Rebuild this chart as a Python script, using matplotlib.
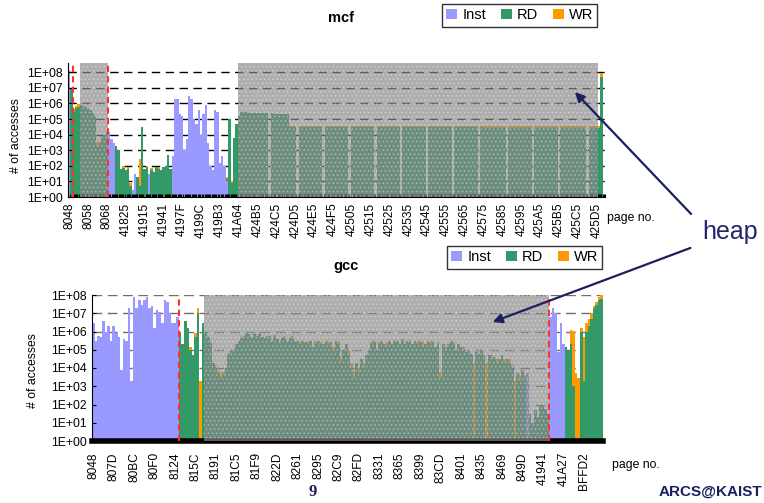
import matplotlib
matplotlib.use("Agg")
import matplotlib.pyplot as plt
from matplotlib.patches import Patch, FancyArrowPatch
from matplotlib.ticker import NullLocator
import numpy as np

plt.rcParams["font.family"] = ["Liberation Sans", "DejaVu Sans"]
plt.rcParams["hatch.linewidth"] = 0.6

INST_COLOR = "#9999ff"
RD_COLOR = "#339966"
WR_COLOR = "#ff9900"
NAVY = "#1c1f5e"

# 8 bars between two labelled pages
PER_LABEL = 8

# ---------------- mcf ----------------
mcf_labels = ["8048", "8058", "8068", "41825", "41915", "41941", "4197F", "4199C", "419B3", "41A64",
              "424B5", "424C5", "424D5", "424E5", "424F5", "42505", "42515", "42525", "42535", "42545",
              "42555", "42565", "42575", "42585", "42595", "425A5", "425B5", "425C5", "425D5"]

mcf_inst = [
    1.3e8, 0, 0, 0, 0, 0, 0, 0,
    0, 0, 0, 0, 0, 0, 0, 0,
    0, 1.5e4, 5e3, 3e3, 0, 0, 0, 0,
    0, 0, 0, 3, 30, 0, 0, 0,
    0, 0, 30, 0, 0, 0, 0, 0,
    0, 0, 0, 0, 400, 2e6, 2e6, 2e5,
    1.5e5, 1e3, 5e3, 3e6, 2e6, 1e5, 5e4, 4e5,
    1e4, 2e5, 8e5, 3e3, 100, 50, 4e5, 3e5,
    150, 400, 100, 10, 0, 0, 0, 0,
    0, 0, 0, 0, 0, 0, 0, 0,
    0, 0, 0, 0, 0, 0, 0, 0,
    0, 0, 0, 0, 0, 0, 0, 0,
    0, 0, 0, 0, 0, 0, 0, 0,
    0, 0, 0, 0, 0, 0, 0, 0,
    0, 0, 0, 0, 0, 0, 0, 0,
    0, 0, 0, 0, 0, 0, 0, 0,
    0, 0, 0, 0, 0, 0, 0, 0,
    0, 0, 0, 0, 0, 0, 0, 0,
    0, 0, 0, 0, 0, 0, 0, 0,
    0, 0, 0, 0, 0, 0, 0, 0,
    0, 0, 0, 0, 0, 0, 0, 0,
    0, 0, 0, 0, 0, 0, 0, 0,
    0, 0, 0, 0, 0, 0, 0, 0,
    0, 0, 0, 0, 0, 0, 0, 0,
    0, 0, 0, 0, 0, 0, 0, 0,
    0, 0, 0, 0, 0, 0, 0, 0,
    0, 0, 0, 0, 0, 0, 0, 0,
    0, 0, 0, 0, 0, 0, 0, 0,
    0, 0, 0, 0,
]

mcf_rd = [
    0, 1e7, 3e5, 5e5, 6e5, 8e5, 7e5, 6e5,
    5e5, 4e5, 2.5e5, 1.5e5, 2e3, 3e3, 8e3, 1e4,
    1.2e4, 0, 0, 0, 2e3, 1e3, 60, 70,
    50, 60, 5, 0, 0, 20, 5, 3e4,
    60, 80, 0, 50, 40, 80, 60, 50,
    80, 100, 500, 60, 0, 0, 0, 0,
    0, 0, 0, 0, 0, 0, 0, 0,
    0, 0, 0, 0, 0, 0, 0, 0,
    0, 0, 0, 5, 1e5, 8, 6e3, 5e4,
    1.5e5, 2.8e5, 2.8e5, 2.7e5, 2.7e5, 2.6e5, 2.6e5, 2.5e5,
    2.5e5, 2.5e5, 2.4e5, 2.4e5, 2.3e5, 0, 2.3e5, 2.2e5,
    2.2e5, 2.2e5, 2.1e5, 2.1e5, 2e5, 2e5, 3e4, 3e4,
    3e4, 0, 3e4, 3e4, 3e4, 3e4, 3e4, 3e4,
    3e4, 3e4, 3e4, 3e4, 0, 3e4, 3e4, 3e4,
    3e4, 3e4, 3e4, 3e4, 3e4, 3e4, 3e4, 0,
    3e4, 3e4, 3e4, 3e4, 3e4, 3e4, 3e4, 3e4,
    3e4, 3e4, 0, 3e4, 3e4, 3e4, 3e4, 3e4,
    3e4, 3e4, 3e4, 3e4, 3e4, 0, 3e4, 3e4,
    3e4, 3e4, 3e4, 3e4, 3e4, 3e4, 3e4, 3e4,
    0, 3e4, 3e4, 3e4, 3e4, 3e4, 3e4, 3e4,
    3e4, 3e4, 3e4, 0, 3e4, 3e4, 3e4, 3e4,
    3e4, 3e4, 3e4, 3e4, 3e4, 3e4, 0, 3e4,
    2.8e4, 2.8e4, 2.8e4, 2.8e4, 2.8e4, 2.8e4, 2.8e4, 2.8e4,
    2.8e4, 2.8e4, 0, 2.8e4, 2.8e4, 2.8e4, 2.8e4, 2.8e4,
    2.8e4, 2.8e4, 2.8e4, 2.8e4, 2.8e4, 0, 2.8e4, 2.8e4,
    2.7e4, 2.7e4, 2.7e4, 2.7e4, 2.7e4, 2.7e4, 2.7e4, 2.7e4,
    0, 2.7e4, 2.7e4, 2.7e4, 2.7e4, 2.7e4, 2.7e4, 2.7e4,
    2.7e4, 2.7e4, 2.7e4, 2.7e4, 0, 2.7e4, 2.7e4, 2.7e4,
    2.7e4, 2.7e4, 5e7, 0,
]

mcf_wr = [
    0, 0, 1.5e5, 2e5, 3e5, 3e5, 0, 0,
    0, 0, 0, 0, 1.5e3, 1e3, 0, 0,
    4e3, 0, 0, 0, 0, 0, 0, 30,
    0, 20, 3, 0, 0, 0, 250, 0,
    0, 20, 0, 20, 0, 0, 25, 0,
    0, 0, 0, 0, 0, 0, 0, 0,
    0, 0, 0, 0, 0, 0, 0, 0,
    0, 0, 0, 0, 0, 0, 0, 0,
    0, 0, 0, 3, 0, 3, 0, 0,
    0, 0, 0, 0, 0, 0, 0, 0,
    0, 0, 0, 0, 0, 0, 0, 0,
    0, 0, 0, 0, 0, 0, 8e3, 8e3,
    8e3, 0, 8e3, 8e3, 8e3, 8e3, 8e3, 8e3,
    8e3, 8e3, 8e3, 8e3, 0, 8e3, 8e3, 8e3,
    8e3, 8e3, 8e3, 8e3, 8e3, 8e3, 8e3, 0,
    8e3, 8e3, 8e3, 8e3, 8e3, 8e3, 8e3, 8e3,
    8e3, 8e3, 0, 8e3, 8e3, 8e3, 8e3, 8e3,
    8e3, 8e3, 8e3, 8e3, 8e3, 0, 8e3, 8e3,
    8e3, 8e3, 8e3, 8e3, 8e3, 8e3, 8e3, 8e3,
    0, 8e3, 8e3, 8e3, 8e3, 8e3, 8e3, 8e3,
    8e3, 8e3, 8e3, 0, 8e3, 8e3, 8e3, 8e3,
    8e3, 8e3, 8e3, 8e3, 8e3, 8e3, 0, 8e3,
    8e3, 8e3, 8e3, 8e3, 8e3, 8e3, 8e3, 8e3,
    8e3, 8e3, 0, 8e3, 8e3, 8e3, 8e3, 8e3,
    8e3, 8e3, 8e3, 8e3, 8e3, 0, 8e3, 8e3,
    8e3, 8e3, 8e3, 8e3, 8e3, 8e3, 8e3, 8e3,
    0, 8e3, 8e3, 8e3, 8e3, 8e3, 8e3, 8e3,
    8e3, 8e3, 8e3, 8e3, 0, 8e3, 8e3, 8e3,
    8e3, 8e3, 4e7, 0,
]

# heap regions (bar index ranges) and region boundaries
mcf_heap = [(4.5, 16.5), (71.5, 224.5)]
mcf_marks = [1.5, 16.5]

# ---------------- gcc ----------------
gcc_labels = ["8048", "807D", "80BC", "80F0", "8124", "815C", "8191", "81C5", "81F9", "822D",
              "8261", "8295", "82C9", "82FD", "8331", "8365", "8399", "83CD", "8401", "8435",
              "8469", "849D", "41941", "41A27", "BFFD2"]

gcc_inst = [
    3e6, 3e5, 6e5, 5e5, 4e6, 1e6, 2e6, 3e5,
    2e6, 8e5, 5e5, 8e3, 4e5, 3e5, 2e7, 2e3,
    8e7, 2e7, 5e7, 3e7, 5e7, 8e7, 2e7, 2.5e7,
    1.5e6, 1.5e7, 1.2e7, 3e6, 5e7, 4e7, 1e7, 3e6,
    3e6, 6e6, 0, 0, 0, 0, 0, 0,
    0, 0, 0, 0, 0, 0, 0, 0,
    0, 0, 0, 0, 0, 0, 0, 0,
    0, 0, 0, 0, 0, 0, 0, 0,
    0, 0, 0, 0, 0, 0, 0, 0,
    0, 0, 0, 0, 0, 0, 0, 0,
    0, 0, 0, 0, 0, 0, 0, 0,
    0, 0, 0, 0, 0, 0, 0, 0,
    0, 0, 0, 0, 0, 0, 0, 0,
    0, 0, 0, 0, 0, 0, 0, 0,
    0, 0, 0, 0, 0, 0, 0, 0,
    0, 0, 0, 0, 0, 0, 0, 0,
    0, 0, 0, 0, 0, 0, 0, 0,
    0, 0, 0, 0, 0, 0, 0, 0,
    0, 0, 0, 0, 0, 0, 0, 0,
    0, 0, 0, 0, 0, 0, 0, 0,
    0, 0, 0, 0, 0, 0, 0, 0,
    0, 0, 5e3, 0, 0, 0, 0, 0,
    0, 0, 0, 6e6, 2e7, 1e7, 8e4, 3e6,
    2e5, 0, 0, 0, 0, 0, 0, 0,
    0, 0, 0, 0, 0, 0, 0, 0,
]

gcc_rd = [
    0, 0, 0, 0, 0, 0, 0, 0,
    0, 0, 0, 0, 0, 0, 0, 0,
    0, 0, 0, 0, 0, 0, 0, 0,
    0, 0, 0, 0, 0, 0, 0, 0,
    0, 0, 1e6, 2e5, 4e6, 1.5e6, 1e5, 5e4,
    5e5, 1e7, 0, 3e6, 1e6, 5e5, 2e5, 2e4,
    1e4, 5e3, 3e3, 4e3, 1e4, 5e4, 1e5, 8e4,
    2e5, 3e5, 4e5, 6e5, 8e5, 7e5, 5e5, 8e5,
    6e5, 7e5, 5e5, 5e5, 4e5, 6e5, 3e5, 5e5,
    4e5, 2e5, 5e5, 4e5, 3e5, 5e5, 4e5, 3e5,
    3e5, 2e5, 3e5, 2.5e5, 2e5, 3e5, 1.5e5, 2e5,
    3e5, 2e5, 2e5, 3e5, 2e5, 2.5e5, 1e5, 3e5,
    2e5, 2e4, 1e5, 2e5, 5e4, 1e4, 3e3, 2e4,
    5e3, 3e4, 1e4, 5e4, 1e5, 2e5, 3e5, 1e5,
    2e5, 3e5, 2e5, 1.5e5, 3e5, 2e5, 2.5e5, 3e5,
    2e5, 3e5, 2e5, 3e5, 2.5e5, 2e5, 3e5, 2e5,
    3e5, 1.5e5, 2e5, 3e5, 2e5, 3e5, 1.5e5, 2e5,
    3e3, 2e5, 1e5, 2e5, 3e5, 2e5, 1e5, 2e5,
    1.5e5, 1e5, 8e4, 1e5, 6e4, 0, 8e4, 6e4,
    1e5, 5e4, 0, 5e4, 3e4, 4e4, 2e4, 3e4,
    5e4, 2e4, 3e4, 2e4, 1e4, 0, 5e3, 2e3,
    8e3, 3e3, 0, 30, 10, 50, 20, 80,
    100, 60, 30, 0, 0, 0, 0, 0,
    0, 1.5e5, 1e5, 2e5, 1e3, 0, 0, 1e6,
    2e3, 1e6, 2e6, 5e6, 2e7, 3e7, 5e7, 6e7,
]

gcc_wr = [
    0, 0, 0, 0, 0, 0, 0, 0,
    0, 0, 0, 0, 0, 0, 0, 0,
    0, 0, 0, 0, 0, 0, 0, 0,
    0, 0, 0, 0, 0, 0, 0, 0,
    0, 0, 0, 0, 0, 0, 5e4, 0,
    3e5, 1e7, 2e3, 0, 0, 0, 5e4, 0,
    5e3, 3e3, 2e3, 2e3, 0, 2e4, 0, 3e4,
    0, 0, 1e5, 0, 0, 0, 0, 0,
    0, 2e5, 0, 0, 2e5, 0, 0, 1.5e5,
    0, 1e5, 0, 2e5, 0, 0, 1.5e5, 0,
    0, 1e5, 0, 0, 1e5, 0, 0, 1e5,
    0, 1e5, 0, 0, 1e5, 0, 5e4, 0,
    1e5, 2e4, 0, 0, 5e4, 1e4, 3e3, 0,
    5e3, 0, 1e4, 0, 0, 1e5, 0, 0,
    1e5, 0, 0, 1e5, 0, 0, 1e5, 0,
    0, 1e5, 0, 0, 1e5, 0, 0, 1e5,
    0, 1e5, 0, 0, 1e5, 0, 0, 1e5,
    3e3, 0, 5e4, 0, 0, 1e5, 0, 0,
    0, 5e4, 0, 0, 0, 2e4, 0, 0,
    0, 0, 2e4, 0, 2e4, 0, 1e4, 0,
    0, 1e4, 0, 1e4, 5e3, 2e3, 0, 2e3,
    0, 1e3, 0, 0, 0, 0, 0, 0,
    0, 0, 0, 0, 0, 0, 0, 0,
    0, 0, 0, 1e6, 1e6, 5e3, 3e3, 5e5,
    5e5, 2e6, 3e6, 5e6, 5e6, 1e7, 3e7, 5e7,
]

gcc_heap = [(43.5, 178.5)]
gcc_marks = [33.5, 178.5]


def draw_accesses(ax, inst, rd, wr, labels, heap, marks, ytop, grid_color, grid_dash):
    inst = np.asarray(inst, float)
    rd = np.asarray(rd, float)
    wr = np.asarray(wr, float)
    n = len(rd)
    x = np.arange(n)

    # stacked columns, baseline at 1
    t1 = np.maximum(inst, 1)
    t2 = np.maximum(inst + rd, 1)
    t3 = np.maximum(inst + rd + wr, 1)
    for val, lo, hi, color in [(inst, np.ones(n), t1, INST_COLOR),
                               (rd, t1, t2, RD_COLOR),
                               (wr, t2, t3, WR_COLOR)]:
        m = val > 0
        ax.bar(x[m], hi[m] - lo[m], bottom=lo[m], width=1.0, color=color,
               linewidth=0, zorder=1)

    ax.set_yscale("log")
    ax.set_ylim(1, ytop)
    ax.set_xlim(-0.5, n - 0.5)

    for k in range(1, 9):
        ax.axhline(10 ** k, color=grid_color, lw=1.0, linestyle=(0, grid_dash), zorder=0.6)

    # grey "heap" shading
    for a, b in heap:
        ax.axvspan(a, b, facecolor="#888888", alpha=0.68, lw=0, zorder=3)
        ax.axvspan(a, b, fill=False, hatch="....", edgecolor="white", lw=0, alpha=0.35, zorder=3.1)
    for m in marks:
        ax.axvline(m, color="#ff3030", lw=1.5, linestyle=(0, (3, 2)), zorder=4)

    ax.set_yticks([10 ** k for k in range(9)], [f"1E+{k:02d}" for k in range(9)])
    ax.yaxis.set_minor_locator(NullLocator())
    ax.tick_params(axis="y", direction="in", length=3, width=0.8, labelsize=8.8, pad=4)

    ax.set_xticks(np.arange(len(labels)) * PER_LABEL, labels, rotation=90)
    ax.tick_params(axis="x", which="major", length=0, labelsize=8.6)

    for s in ["top", "right"]:
        ax.spines[s].set_visible(False)
    ax.spines["left"].set_linewidth(0.8)


fig = plt.figure(figsize=(7.64, 5.03), dpi=100)
W, H = 764.0, 503.0

ax1 = fig.add_axes([68 / W, 1 - 197 / H, (605 - 68) / W, (197 - 63) / H])
draw_accesses(ax1, mcf_inst, mcf_rd, mcf_wr, mcf_labels, mcf_heap, mcf_marks,
              10 ** 8.59, "black", (6, 4))
# dense page ticks along the bottom
ax1.set_xticks(np.arange(-0.5, len(mcf_rd), 0.5), minor=True)
ax1.tick_params(axis="x", which="minor", direction="in", length=2.5, width=0.8, color="black")
ax1.tick_params(axis="x", which="major", pad=4)

ax2 = fig.add_axes([92 / W, 1 - 441 / H, (603 - 92) / W, (441 - 295) / H])
draw_accesses(ax2, gcc_inst, gcc_rd, gcc_wr, gcc_labels, gcc_heap, gcc_marks,
              1e8, "#6e6e6e", (7, 4))
ax2.spines["bottom"].set_linewidth(4)
ax2.tick_params(axis="x", which="major", pad=8)

# titles, axis captions
fig.text(341 / W, 1 - 18 / H, "mcf", ha="center", va="center", fontsize=10.5, fontweight="bold")
fig.text(346 / W, 1 - 266 / H, "gcc", ha="center", va="center", fontsize=10.5, fontweight="bold")
fig.text(16 / W, 1 - 136 / H, "# of accesses", rotation=90, ha="center", va="center", fontsize=8.8)
fig.text(32.5 / W, 1 - 371 / H, "# of accesses", rotation=90, ha="center", va="center", fontsize=8.8)
fig.text(607 / W, 1 - 218 / H, "page no.", ha="left", va="center", fontsize=8.8)
fig.text(612 / W, 1 - 465 / H, "page no.", ha="left", va="center", fontsize=8.8)

handles = [Patch(facecolor=INST_COLOR, label="Inst"),
           Patch(facecolor=RD_COLOR, label="RD"),
           Patch(facecolor=WR_COLOR, label="WR")]
for top_px, left_px in [(4, 442), (246, 447)]:
    leg = fig.legend(handles=handles, loc="upper left", bbox_to_anchor=(left_px / W, 1 - top_px / H),
                     ncol=3, frameon=True, fancybox=False, edgecolor="black", fontsize=10.5,
                     handlelength=0.75, handleheight=0.7, handletextpad=0.35, columnspacing=1.0,
                     borderpad=0.3, borderaxespad=0)
    leg.get_frame().set_linewidth(1.0)

# "heap" call-out
fig.text(730 / W, 1 - 232 / H, "heap", ha="center", va="center", fontsize=18, color="#22266a")
for tail, head in [((693, 216), (573, 90)), ((693, 247), (490, 323))]:
    arr = FancyArrowPatch((tail[0] / W, 1 - tail[1] / H), (head[0] / W, 1 - head[1] / H),
                          transform=fig.transFigure, arrowstyle="-|>", mutation_scale=14,
                          color=NAVY, lw=1.6, zorder=10)
    fig.add_artist(arr)

# slide footer
fig.text(313 / W, 1 - 492 / H, "9", ha="center", va="center", fontsize=12,
         fontweight="bold", family=["Liberation Serif", "DejaVu Serif"], color=NAVY)
fig.text(762 / W, 1 - 492 / H, "ARCS@KAIST", ha="right", va="center", fontsize=11,
         fontweight="bold", color=NAVY)

fig.savefig("out.png", dpi=100)
